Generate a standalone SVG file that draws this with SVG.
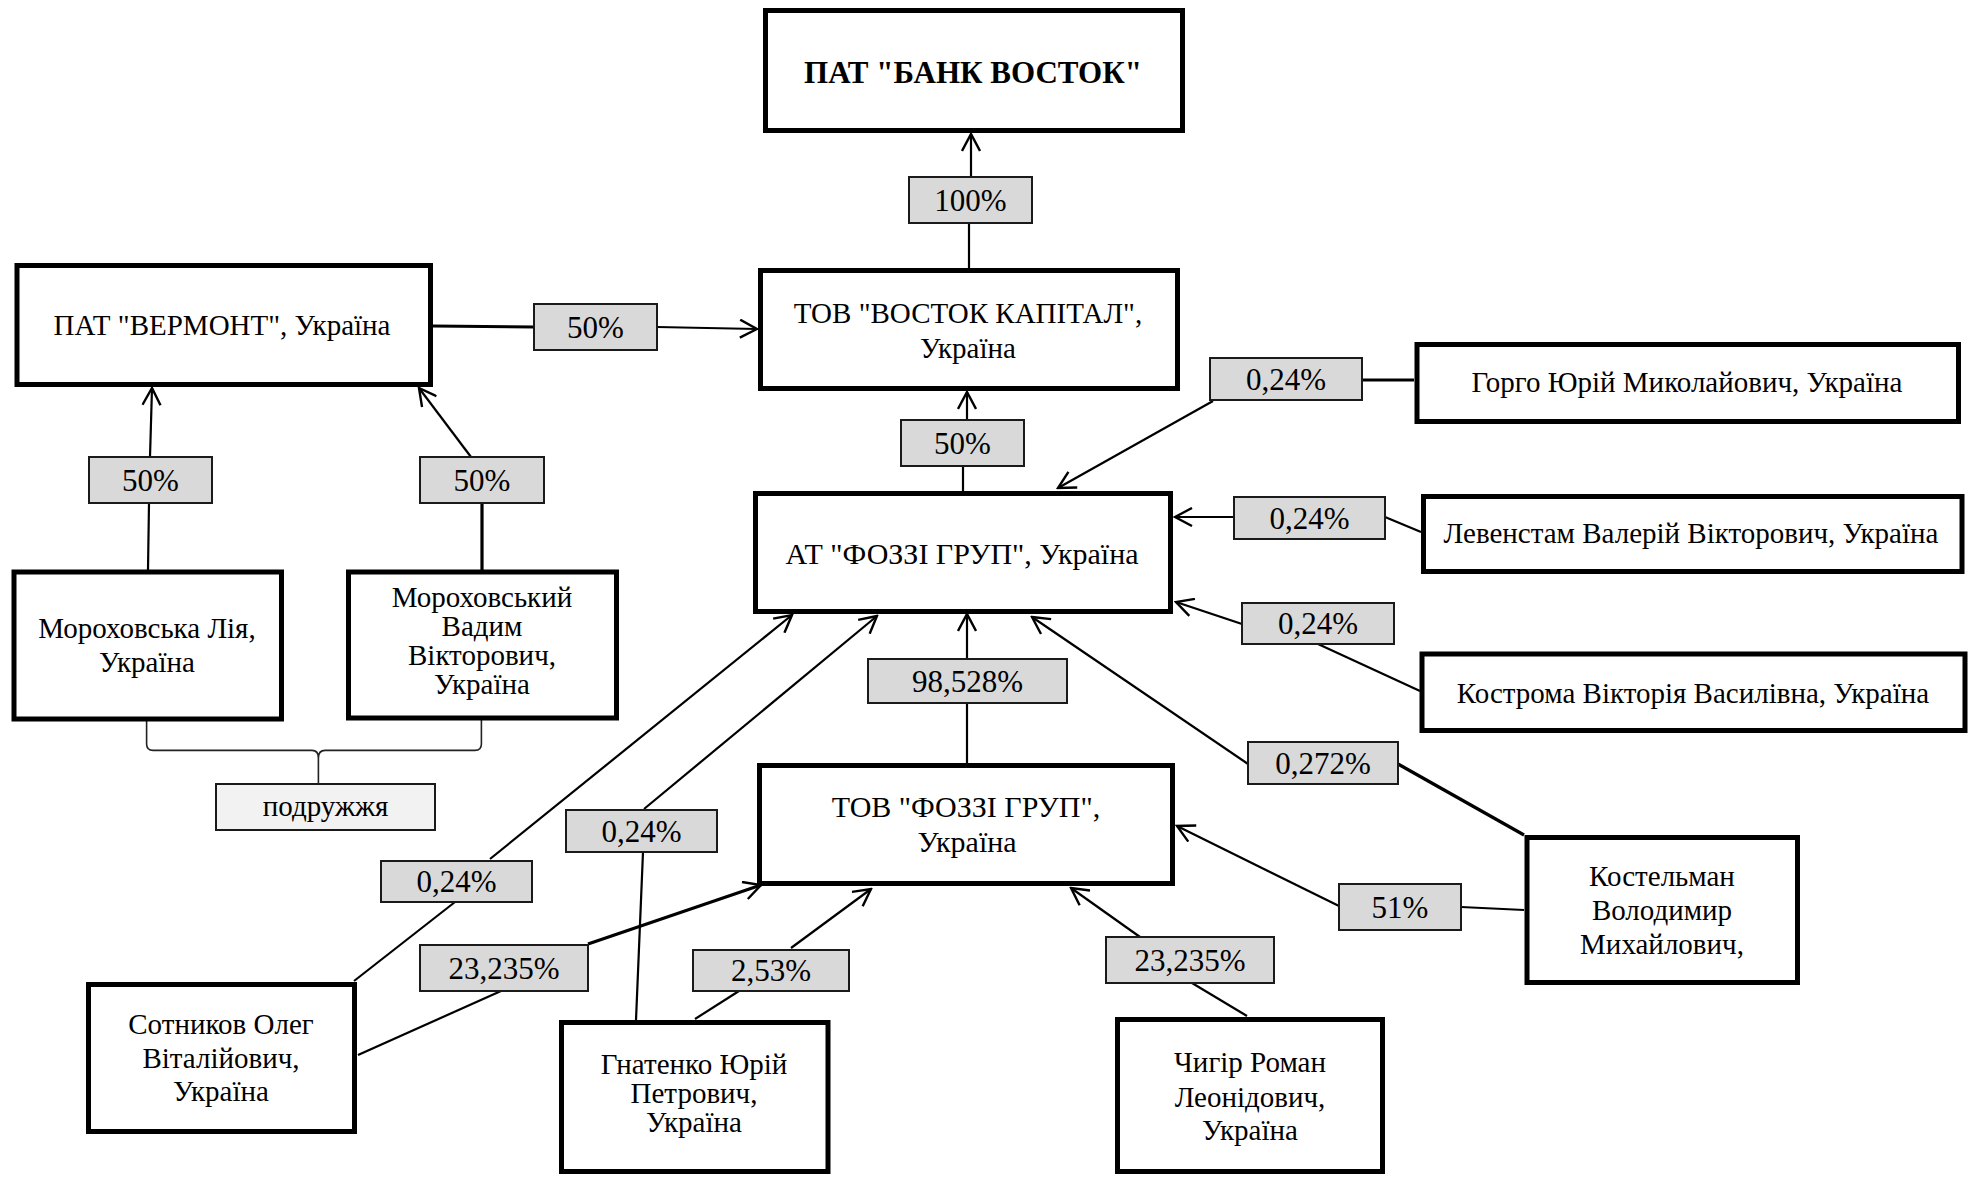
<svg xmlns="http://www.w3.org/2000/svg" width="1979" height="1177" viewBox="0 0 1979 1177">
<defs>
<style>
.bg{fill:#fff}
.node rect{fill:#fff;stroke:#000;stroke-width:5}
.t{font-family:"Liberation Serif","Times New Roman",serif;font-size:29px;text-anchor:middle;fill:#000}
.b{font-size:31px;font-weight:bold}
.big{font-size:30px}
.lbl rect{fill:#d9d9d9;stroke:#1a1a1a;stroke-width:2}
.lbl text{font-family:"Liberation Serif","Times New Roman",serif;font-size:31px;text-anchor:middle;fill:#000}
.lbl.light rect{fill:#f2f2f2}
.lbl.light text{font-size:29px}
.c line,.c path{stroke:#000;stroke-width:2.2;fill:none}
.c .thick{stroke-width:3.2}
.c .arr{marker-end:url(#ah)}
.c .brace{stroke:#222;stroke-width:1.6}
</style>
<marker id="ah" viewBox="0 0 20 20" refX="18" refY="10" markerWidth="20" markerHeight="20" markerUnits="userSpaceOnUse" orient="auto">
<path d="M1,1 L18,10 L1,19" fill="none" stroke="#000" stroke-width="2.4"/>
</marker>
</defs>
<rect class="bg" x="0" y="0" width="1979" height="1177"/>

<g id="connectors" class="c">
<line class="arr" x1="971" y1="177" x2="971" y2="134"/>
<line x1="969" y1="223" x2="969" y2="268"/>
<line class="thick" x1="433" y1="326" x2="534" y2="327"/>
<line class="arr" x1="657" y1="327" x2="757" y2="329"/>
<line class="arr" x1="967" y1="420" x2="967" y2="392"/>
<line x1="963" y1="466" x2="963" y2="491"/>
<line class="arr" x1="150" y1="457" x2="152" y2="388"/>
<line x1="149" y1="503" x2="148" y2="570"/>
<line class="arr" x1="471" y1="457" x2="419" y2="388"/>
<line class="thick" x1="482" y1="503" x2="482" y2="570"/>
<line class="thick" x1="1362" y1="380" x2="1414" y2="380"/>
<line class="arr" x1="1213" y1="401" x2="1058" y2="488"/>
<line class="arr" x1="1234" y1="517" x2="1175" y2="517"/>
<line x1="1385" y1="517" x2="1421" y2="532"/>
<line class="arr" x1="1242" y1="624" x2="1176" y2="602"/>
<line x1="1318" y1="644" x2="1420" y2="691"/>
<line class="arr" x1="967" y1="659" x2="967" y2="614"/>
<line x1="967" y1="703" x2="967" y2="763"/>
<line class="arr" x1="1248" y1="764" x2="1032" y2="617"/>
<line class="thick" x1="1398" y1="764" x2="1524" y2="835"/>
<line class="arr" x1="644" y1="809" x2="877" y2="616"/>
<line x1="643" y1="852" x2="636" y2="1020"/>
<line class="arr" x1="490" y1="859" x2="792" y2="615"/>
<line x1="455" y1="902" x2="354" y2="981"/>
<line class="arr" x1="1339" y1="906" x2="1177" y2="826"/>
<line x1="1461" y1="907" x2="1524" y2="910"/>
<line class="arr" x1="1140" y1="937" x2="1071" y2="888"/>
<line x1="1192" y1="983" x2="1247" y2="1016"/>
<line class="arr thick" x1="588" y1="944" x2="761" y2="885"/>
<line x1="501" y1="991" x2="358" y2="1055"/>
<line class="arr" x1="791" y1="948" x2="871" y2="889"/>
<line x1="739" y1="991" x2="695" y2="1019"/>
<path class="brace" d="M146.6,721 L146.6,744 Q146.6,750.4 153,750.4 L312,750.4 Q318.4,750.4 318.4,758 L318.4,784 M318.4,758 Q318.4,750.4 325,750.4 L475,750.4 Q481.4,750.4 481.4,744 L481.4,720"/>
</g>

<g id="bank" class="node"><rect x="765.5" y="10.5" width="417" height="120"/><text class="t b" x="973" y="83">ПАТ "БАНК ВОСТОК"</text></g>
<g id="vermont" class="node"><rect x="17" y="265.5" width="413.5" height="119"/><text class="t" x="222" y="335">ПАТ "ВЕРМОНТ", Україна</text></g>
<g id="vostok-kapital" class="node"><rect x="760.5" y="270.5" width="417" height="118"/><text class="t" x="968" y="323">ТОВ "ВОСТОК КАПІТАЛ",</text><text class="t" x="968" y="358">Україна</text></g>
<g id="at-fozzi" class="node"><rect x="755.5" y="493.5" width="415" height="118"/><text class="t big" x="962" y="564">АТ "ФОЗЗІ ГРУП", Україна</text></g>
<g id="morokhovska" class="node"><rect x="14" y="572" width="267.5" height="147"/><text class="t" x="147" y="638">Мороховська Лія,</text><text class="t" x="147" y="672">Україна</text></g>
<g id="morokhovskyi" class="node"><rect x="348.5" y="572" width="268" height="146"/><text class="t" x="482" y="607">Мороховський</text><text class="t" x="482" y="636">Вадим</text><text class="t" x="482" y="665">Вікторович,</text><text class="t" x="482" y="694">Україна</text></g>
<g id="horho" class="node"><rect x="1417" y="344.5" width="541.5" height="77"/><text class="t" x="1687" y="392">Горго Юрій Миколайович, Україна</text></g>
<g id="levenstam" class="node"><rect x="1423.5" y="496.5" width="538.5" height="75"/><text class="t" x="1691" y="543">Левенстам Валерій Вікторович, Україна</text></g>
<g id="kostroma" class="node"><rect x="1422" y="654" width="543" height="76.5"/><text class="t" x="1693" y="703">Кострома Вікторія Василівна, Україна</text></g>
<g id="tov-fozzi" class="node"><rect x="759.5" y="765.5" width="413" height="118"/><text class="t big" x="966" y="817">ТОВ "ФОЗЗІ ГРУП",</text><text class="t big" x="967" y="852">Україна</text></g>
<g id="kostelman" class="node"><rect x="1527" y="837.5" width="270.5" height="145"/><text class="t" x="1662" y="886">Костельман</text><text class="t" x="1662" y="920">Володимир</text><text class="t" x="1662" y="954">Михайлович,</text></g>
<g id="sotnykov" class="node"><rect x="88.5" y="984.5" width="266" height="147"/><text class="t" x="221" y="1034">Сотников Олег</text><text class="t" x="221" y="1068">Віталійович,</text><text class="t" x="221" y="1101">Україна</text></g>
<g id="hnatenko" class="node"><rect x="561.5" y="1022.5" width="266.5" height="149"/><text class="t" x="694" y="1074">Гнатенко Юрій</text><text class="t" x="694" y="1103">Петрович,</text><text class="t" x="694" y="1132">Україна</text></g>
<g id="chyhir" class="node"><rect x="1117.5" y="1019.5" width="265" height="152"/><text class="t" x="1250" y="1072">Чигір Роман</text><text class="t" x="1250" y="1107">Леонідович,</text><text class="t" x="1250" y="1140">Україна</text></g>

<g id="labels">
<g class="lbl"><rect x="909" y="177" width="123" height="46"/><text x="970.5" y="211">100%</text></g>
<g class="lbl"><rect x="534" y="304" width="123" height="46"/><text x="595.5" y="338">50%</text></g>
<g class="lbl"><rect x="901" y="420" width="123" height="46"/><text x="962.5" y="454">50%</text></g>
<g class="lbl"><rect x="89" y="457" width="123" height="46"/><text x="150.5" y="491">50%</text></g>
<g class="lbl"><rect x="420" y="457" width="124" height="46"/><text x="482" y="491">50%</text></g>
<g class="lbl"><rect x="1210" y="358" width="152" height="42"/><text x="1286" y="390">0,24%</text></g>
<g class="lbl"><rect x="1234" y="497" width="151" height="42"/><text x="1309.5" y="529">0,24%</text></g>
<g class="lbl"><rect x="1242" y="603" width="152" height="41"/><text x="1318" y="634">0,24%</text></g>
<g class="lbl"><rect x="868" y="659" width="199" height="44"/><text x="967.5" y="692">98,528%</text></g>
<g class="lbl"><rect x="1248" y="742" width="150" height="42"/><text x="1323" y="774">0,272%</text></g>
<g class="lbl"><rect x="566" y="810" width="151" height="42"/><text x="641.5" y="842">0,24%</text></g>
<g class="lbl"><rect x="381" y="861" width="151" height="41"/><text x="456.5" y="892">0,24%</text></g>
<g class="lbl"><rect x="1339" y="884" width="122" height="46"/><text x="1400" y="918">51%</text></g>
<g class="lbl"><rect x="1106" y="937" width="168" height="46"/><text x="1190" y="971">23,235%</text></g>
<g class="lbl"><rect x="420" y="945" width="168" height="46"/><text x="504" y="979">23,235%</text></g>
<g class="lbl"><rect x="693" y="950" width="156" height="41"/><text x="771" y="981">2,53%</text></g>
<g class="lbl light"><rect x="216" y="784" width="219" height="46"/><text x="325.5" y="816">подружжя</text></g>
</g>
</svg>
